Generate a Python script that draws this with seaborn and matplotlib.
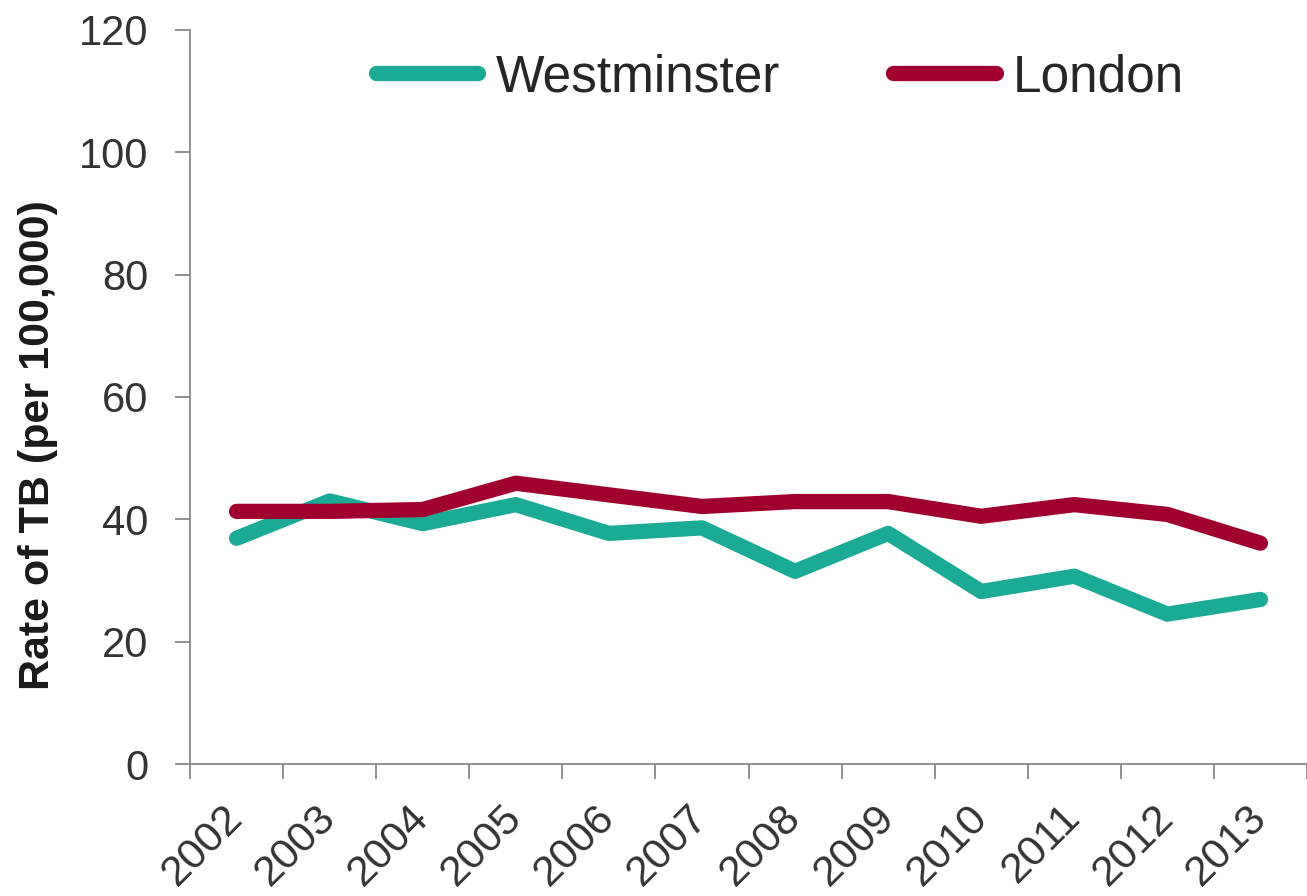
import numpy as np
import pandas as pd
import seaborn as sns
import matplotlib.pyplot as plt
from matplotlib.ticker import FixedLocator

# data
years = ["2002", "2003", "2004", "2005", "2006", "2007",
         "2008", "2009", "2010", "2011", "2012", "2013"]
westminster = [36.9, 43.0, 39.3, 42.4, 37.7, 38.6, 31.5, 37.7, 28.2, 30.7, 24.5, 26.9]
london = [41.3, 41.3, 41.6, 45.9, 44.0, 42.1, 42.9, 42.9, 40.5, 42.4, 40.8, 36.1]

teal = "#1AAA96"
crimson = "#A0002D"

sns.set_style("white")
plt.rcParams["font.family"] = ["Liberation Sans", "DejaVu Sans"]

pos = np.arange(len(years))
df = pd.DataFrame({
    "pos": np.concatenate([pos, pos]),
    "rate": westminster + london,
    "area": ["Westminster"] * len(years) + ["London"] * len(years),
})

fig = plt.figure(figsize=(13.07, 8.96), dpi=100)
ax = fig.add_axes([0.1454, 0.1473, 0.8546, 0.8193])

for name, col in [("Westminster", teal), ("London", crimson)]:
    sns.lineplot(data=df[df["area"] == name], x="pos", y="rate", color=col,
                 linewidth=11, label=name, ax=ax,
                 solid_capstyle="round", solid_joinstyle="round")

ax.set_xlim(-0.5, len(years) - 0.5)
ax.set_ylim(0, 120)
ax.set_yticks(range(0, 121, 20))

# Excel style category axis: ticks between categories, labels centred
ax.xaxis.set_major_locator(FixedLocator(np.arange(-0.5, len(years), 1.0)))
ax.xaxis.set_minor_locator(FixedLocator(pos))
ax.set_xticklabels([])
ax.set_xticklabels(years, minor=True, rotation=45, ha="right", va="center",
                   rotation_mode="anchor")
ax.tick_params(axis="x", which="minor", length=0, pad=34, labelsize=31,
               labelcolor="#333333", bottom=True)

grey = "#888888"
for s in ["top", "right"]:
    ax.spines[s].set_visible(False)
for s in ["left", "bottom"]:
    ax.spines[s].set_color(grey)
    ax.spines[s].set_linewidth(1.3)
ax.tick_params(axis="both", which="major", direction="out", length=11,
               width=1.3, color=grey, bottom=True, left=True)
ax.tick_params(axis="y", labelsize=30, pad=19, labelcolor="#333333")

ax.set_xlabel("")
ax.set_ylabel("Rate of TB (per 100,000)", fontsize=31, fontweight="bold",
              color="#1a1a1a")
ax.yaxis.set_label_coords(-0.118, 0.435)

ax.legend(loc="center", bbox_to_anchor=(0.528, 0.935), ncol=2, frameon=False,
          fontsize=37, handlelength=2.0, handletextpad=0.33, columnspacing=2.2,
          borderpad=0, borderaxespad=0)

fig.savefig("out.png", dpi=100)
